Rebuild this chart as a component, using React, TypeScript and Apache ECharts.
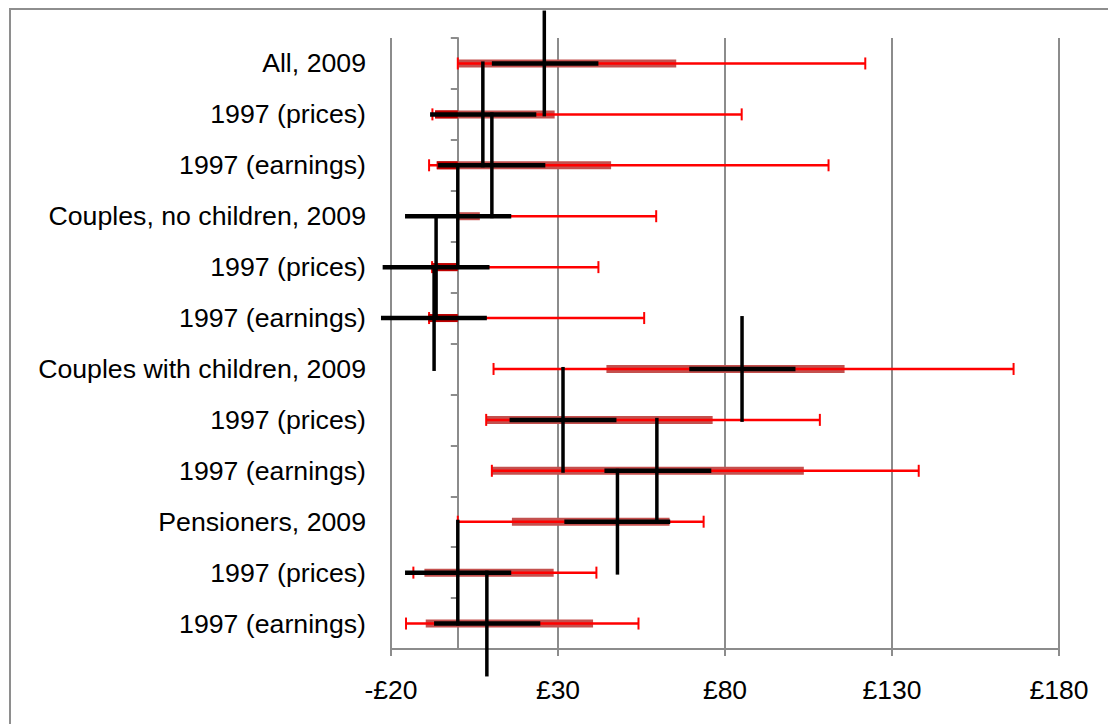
import React, { useEffect, useRef } from "react";
import * as echarts from "echarts";

// Row labels (top to bottom)
const categories = [
  "All, 2009",
  "1997 (prices)",
  "1997 (earnings)",
  "Couples, no children, 2009",
  "1997 (prices)",
  "1997 (earnings)",
  "Couples with children, 2009",
  "1997 (prices)",
  "1997 (earnings)",
  "Pensioners, 2009",
  "1997 (prices)",
  "1997 (earnings)",
];

// Thin red whiskers (min / max), £
const whiskerMin = [0, -7.6, -8.6, 0, -7.7, -8.6, 10.7, 8.5, 10.2, 0, -13.3, -15.5];
const whiskerMax = [122, 85, 111, 59.4, 42.1, 55.8, 166.4, 108.4, 138, 73.6, 41.5, 54.1];

// Thick red band
const boxLow = [0, -6.8, -6.3, 0, -7.8, -8.8, 44.5, 8.5, 10.2, 16.2, -10, -9.6];
const boxHigh = [65.4, 29, 45.9, 6.6, 0, 0, 115.8, 76.3, 103.6, 63.4, 28.7, 40.5];

// Dark red (negative) part of the band, where shown
const lossBand = [null, -6.8, -6.3, null, -7.8, -8.8, null, null, null, null, null, null];

// Black inner band
const innerLow = [10.2, -8.3, -5.9, -15.8, -22.5, -23, 69.3, 15.5, 43.9, 31.9, -15.8, -7.1];
const innerHigh = [42.1, 23.5, 26.2, 16, 9.5, 8.7, 101.1, 47.5, 75.9, 63.6, 16, 24.7];

// Black vertical markers (medians)
const medians = [25.9, 7.5, 10.2, 0, -6.5, -7.1, 85.1, 31.5, 59.6, 47.8, 0, 8.7];

// X axis
const xMin = -20;
const xMax = 180;
const xStep = 50;

const FONT = "'Liberation Sans', Arial, sans-serif";

export default function App() {
  const ref = useRef<HTMLDivElement>(null);

  useEffect(() => {
    if (!ref.current) return;
    const chart = echarts.init(ref.current, null, { renderer: "svg" });

    const rows = categories.map((_, i) => [
      i,
      whiskerMin[i],
      whiskerMax[i],
      boxLow[i],
      boxHigh[i],
      innerLow[i],
      innerHigh[i],
      medians[i],
      lossBand[i] ?? 0,
    ]);

    const renderBoxes = (params: any, api: any) => {
      const i = api.value(0);
      const y = api.coord([0, i])[1];
      const px = (v: number) => api.coord([v, i])[0];
      const children: any[] = [];
      const bLo = px(api.value(3));
      const bHi = px(api.value(4));
      if (bHi - bLo > 0.5) {
        children.push({
          type: "rect",
          shape: { x: bLo, y: y - 4, width: bHi - bLo, height: 8 },
          style: { fill: "#C4504E" },
        });
      }
      const wMin = px(api.value(1));
      const wMax = px(api.value(2));
      children.push({
        type: "line",
        shape: { x1: wMin, y1: y, x2: wMax, y2: y },
        style: { stroke: "#FF0000", lineWidth: 2.5 },
      });
      [wMin, wMax].forEach((xx) =>
        children.push({
          type: "line",
          shape: { x1: xx, y1: y - 6, x2: xx, y2: y + 6 },
          style: { stroke: "#FF0000", lineWidth: 2 },
        })
      );
      const dLo = px(api.value(8));
      const dHi = px(0);
      if (dHi - dLo > 0.5) {
        children.push({
          type: "rect",
          shape: { x: dLo, y: y - 4, width: dHi - dLo, height: 8 },
          style: { fill: "#C00000" },
        });
      }
      const iLo = px(api.value(5));
      const iHi = px(api.value(6));
      children.push({
        type: "rect",
        shape: { x: iLo, y: y - 2.25, width: iHi - iLo, height: 4.5 },
        style: { fill: "#000000" },
      });
      return { type: "group", children };
    };

    const renderMedians = (params: any, api: any) => {
      const i = api.value(0);
      const p = api.coord([api.value(7), i]);
      const band = api.size([0, 1])[1];
      return {
        type: "line",
        shape: { x1: p[0], y1: p[1] - band - 2, x2: p[0], y2: p[1] + band + 2 },
        style: { stroke: "#000000", lineWidth: 3.5 },
      };
    };

    const gray = "#8C8C8C";

    chart.setOption({
      animation: false,
      backgroundColor: "#ffffff",
      grid: {
        left: 391,
        right: 49,
        top: 38,
        bottom: 75,
        containLabel: false,
        outerBoundsMode: "none",
      },
      graphic: [
        {
          type: "rect",
          shape: { x: 10, y: 9, width: 1200, height: 800 },
          style: { fill: "none", stroke: "#8E8E8E", lineWidth: 2 },
          silent: true,
          z: -1,
        },
      ],
      xAxis: {
        type: "value",
        min: xMin,
        max: xMax,
        interval: xStep,
        axisLine: { show: true, lineStyle: { color: gray, width: 2 } },
        axisTick: { show: true, length: 7, lineStyle: { color: gray, width: 2 } },
        splitLine: { show: true, lineStyle: { color: gray, width: 2 } },
        axisLabel: {
          color: "#000000",
          fontFamily: FONT,
          fontSize: 26.5,
          margin: 27,
          formatter: (v: number) => (v < 0 ? "-£" + Math.abs(v) : "£" + v),
        },
      },
      yAxis: {
        type: "category",
        inverse: true,
        data: categories,
        axisLine: { show: true, onZero: true, lineStyle: { color: gray, width: 2 } },
        axisTick: { show: true, length: 7, lineStyle: { color: gray, width: 2 } },
        splitLine: { show: false },
        axisLabel: {
          color: "#000000",
          fontFamily: FONT,
          fontSize: 26.7,
          margin: 25,
          interval: 0,
        },
      },
      series: [
        {
          type: "custom",
          renderItem: renderBoxes,
          data: rows,
          encode: { x: [1, 2], y: 0 },
          clip: false,
          z: 2,
        },
        {
          type: "custom",
          renderItem: renderMedians,
          data: rows,
          encode: { x: 7, y: 0 },
          clip: false,
          z: 3,
        },
      ],
    });

    return () => chart.dispose();
  }, []);

  return (
    <div
      ref={ref}
      style={{ position: "fixed", left: 0, top: 0, width: 1108, height: 724, background: "#ffffff" }}
    />
  );
}
